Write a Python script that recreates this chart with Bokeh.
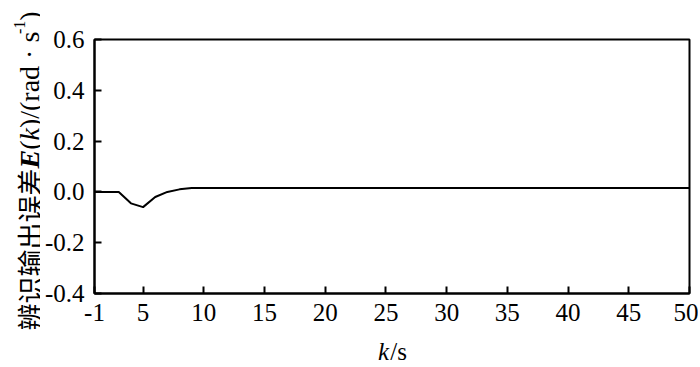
from bokeh.plotting import figure
from bokeh.models import Range1d, FixedTicker, ColumnDataSource
from bokeh.layouts import row, column
from bokeh.core.properties import value
from bokeh.embed import file_html
from bokeh.resources import INLINE
import math

# ---- data ----
k_values = [1, 2, 3, 4, 5, 6, 7, 8, 9, 50]
e_values = [0.0, 0.0, 0.0, -0.045, -0.06, -0.02, 0.0, 0.01, 0.015, 0.015]
x_ticks = [1, 5, 10, 15, 20, 25, 30, 35, 40, 45, 50]
x_tick_labels = ["-1", "5", "10", "15", "20", "25", "30", "35", "40", "45", "50"]
y_ticks = [-0.4, -0.2, 0.0, 0.2, 0.4, 0.6]
y_tick_labels = ["-0.4", "-0.2", "0.0", "0.2", "0.4", "0.6"]
y_title_cjk = "辨识输出误差"
x_title_var, x_title_unit = "k", "/s"

SERIF = "Liberation Serif"
CJK = "Noto Sans CJK SC"

TOTAL_W, TOTAL_H = 698, 365
YLAB_W = 40
XLAB_H = 30
MAIN_H = TOTAL_H - XLAB_H
MAIN_W = TOTAL_W - YLAB_W
F_LEFT, F_RIGHT, F_TOP, F_BOTTOM = 94, 689, 39, 293   # frame edges on the page

# ---- main chart ----
p = figure(width=MAIN_W, height=MAIN_H, output_backend="svg", toolbar_location=None,
           title=None, x_range=Range1d(1, 50), y_range=Range1d(-0.4, 0.6),
           min_border_left=F_LEFT - YLAB_W, min_border_right=TOTAL_W - F_RIGHT,
           min_border_top=F_TOP, min_border_bottom=MAIN_H - F_BOTTOM)
p.background_fill_color = "white"
p.border_fill_color = "white"
p.grid.visible = False
p.outline_line_color = "black"
p.outline_line_width = 2
p.outline_line_alpha = 1.0

src = ColumnDataSource(dict(k=k_values, e=e_values))
p.line("k", "e", source=src, line_color="black", line_width=2)

for ax in (p.xaxis[0], p.yaxis[0]):
    ax.axis_line_width = 2
    ax.axis_line_color = "black"
    ax.major_tick_line_width = 2
    ax.major_tick_line_color = "black"
    ax.major_tick_in = 7
    ax.major_tick_out = 0
    ax.minor_tick_line_color = None
    ax.major_label_text_font = SERIF
    ax.major_label_text_font_size = "25px"
    ax.major_label_text_color = "black"

p.xaxis[0].ticker = FixedTicker(ticks=x_ticks)
p.xaxis[0].major_label_overrides = {t: s for t, s in zip(x_ticks, x_tick_labels)}
p.xaxis[0].major_label_standoff = 10
p.yaxis[0].ticker = FixedTicker(ticks=y_ticks)
p.yaxis[0].major_label_overrides = {t: s for t, s in zip(y_ticks, y_tick_labels)}
p.yaxis[0].major_label_standoff = 10


def text_panel(w, h, xr, yr, bl=0, br=0):
    f = figure(width=w, height=h, output_backend="svg", toolbar_location=None, title=None,
               x_range=Range1d(*xr), y_range=Range1d(*yr),
               x_axis_type=None, y_axis_type=None, min_border=0,
               min_border_left=bl, min_border_right=br, min_border_top=0, min_border_bottom=0)
    f.outline_line_color = None
    f.grid.visible = False
    f.background_fill_color = "white"
    f.border_fill_color = "white"
    return f


# ---- y axis title (rotated, styled pieces); coordinates = page pixels, y measured downward ----
yl = text_panel(YLAB_W, TOTAL_H, (0, YLAB_W), (TOTAL_H, 0))
FS_C = 27
FS = 28
SUP = 16
pieces = [
    (y_title_cjk, CJK, "normal", FS_C, len(y_title_cjk) * 1.0 * FS_C, 0),
    ("E", SERIF, "bold italic", FS, 0.667 * FS, 0),
    ("(", SERIF, "normal", FS, 0.333 * FS, 0),
    ("k", SERIF, "italic", FS, 0.444 * FS, 0),
    (")/(rad · s", SERIF, "normal", FS, 3.36 * FS, 0),
    ("-1", SERIF, "normal", SUP, 0.833 * SUP, 10),
    (")", SERIF, "normal", FS, 0.333 * FS, 0),
]
ypos = 330
xbase = 29
for text, font, style, size, w, raise_px in pieces:
    yl.text(x=[xbase - raise_px], y=[ypos], text=[text], angle=math.pi / 2,
            text_font=value(font), text_font_style=style, text_font_size=f"{size}px",
            text_color="black", text_align="left", text_baseline="alphabetic")
    ypos -= w

# ---- x axis title "k/s" (frame aligned with main frame) ----
xl = text_panel(MAIN_W, XLAB_H, (F_LEFT, F_RIGHT), (XLAB_H, 0),
                bl=F_LEFT - YLAB_W, br=TOTAL_W - F_RIGHT)
XF = 25
xw = (0.444 + 0.667) * XF
x0 = (F_LEFT + F_RIGHT) / 2 - xw / 2
base_y = 16   # baseline, px from the top of this strip
xl.text(x=[x0], y=[base_y], text=[x_title_var], text_font=value(SERIF),
        text_font_style="italic", text_font_size=f"{XF}px", text_color="black",
        text_baseline="alphabetic")
xl.text(x=[x0 + 0.444 * XF + 1], y=[base_y], text=[x_title_unit], text_font=value(SERIF),
        text_font_size=f"{XF}px", text_color="black", text_baseline="alphabetic")

layout = row(yl, column(p, xl, spacing=0), spacing=0)
open("out.html", "w").write(file_html(layout, INLINE))
